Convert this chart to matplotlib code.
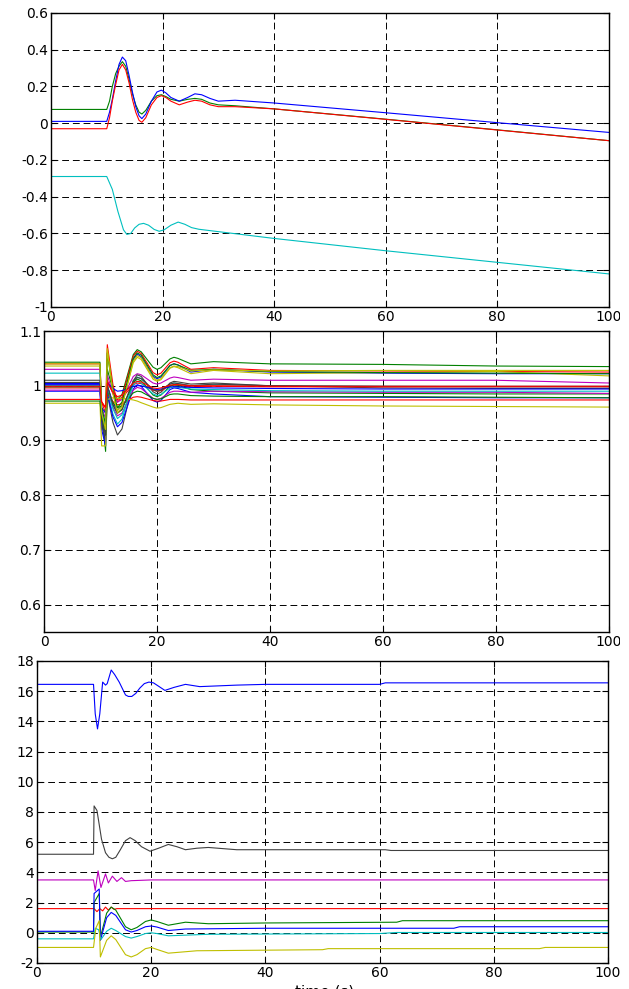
import matplotlib
matplotlib.use("Agg")
import matplotlib.pyplot as plt
from matplotlib.patches import Rectangle

plt.rcParams['font.family'] = ['DejaVu Sans']
plt.rcParams['font.size'] = 10

# matlab default colours
B = (0, 0, 1)
G = (0, 0.5, 0)
R = (1, 0, 0)
C = (0, 0.75, 0.75)
M = (0.75, 0, 0.75)
Y = (0.75, 0.75, 0)
K = (0.25, 0.25, 0.25)

# ---- panel 1 ----
t_top = [0, 10, 10.5, 11, 11.6, 12.2, 12.8, 13.4, 14, 14.6, 15.2, 15.8, 16.3, 17, 18, 19, 19.8, 20.6, 21.5, 23, 24.5, 25.8, 27, 28.5, 30, 33, 40, 60, 80, 100]
top_blue = [0.01, 0.01, 0.06, 0.13, 0.23, 0.32, 0.36, 0.34, 0.26, 0.17, 0.09, 0.04, 0.025, 0.05, 0.12, 0.17, 0.18, 0.165, 0.14, 0.12, 0.14, 0.16, 0.155, 0.135, 0.12, 0.125, 0.11, 0.057, 0.003, -0.05]
top_green = [0.075, 0.075, 0.12, 0.20, 0.27, 0.31, 0.335, 0.31, 0.24, 0.16, 0.10, 0.06, 0.05, 0.07, 0.12, 0.15, 0.155, 0.145, 0.13, 0.12, 0.13, 0.135, 0.13, 0.11, 0.10, 0.095, 0.078, 0.022, -0.036, -0.095]
top_red = [-0.03, -0.03, 0.03, 0.12, 0.21, 0.29, 0.32, 0.29, 0.22, 0.13, 0.06, 0.015, 0.005, 0.03, 0.10, 0.14, 0.15, 0.14, 0.12, 0.10, 0.115, 0.125, 0.12, 0.10, 0.09, 0.09, 0.078, 0.021, -0.037, -0.095]
t_cyan = [0, 10, 11, 12, 13, 13.6, 14.3, 15, 15.8, 16.6, 17.5, 18.5, 19.4, 20.3, 21.5, 22.8, 24, 25.2, 26.5, 30, 40, 60, 80, 100]
top_cyan = [-0.29, -0.29, -0.36, -0.48, -0.58, -0.605, -0.6, -0.57, -0.55, -0.545, -0.555, -0.578, -0.588, -0.58, -0.555, -0.538, -0.55, -0.568, -0.577, -0.59, -0.627, -0.694, -0.757, -0.82]
top_yticks = [-1, -0.8, -0.6, -0.4, -0.2, 0, 0.2, 0.4, 0.6]
top_ylabels = ['-1', '-0.8', '-0.6', '-0.4', '-0.2', '0', '0.2', '0.4', '0.6']

# ---- panel 2 (bus voltages) ----
t_mid = [0, 9.9, 10.2, 10.9, 11.2, 12.2, 13, 13.8, 15.8, 16.5, 17.2, 19.3, 20, 20.7, 22.3, 23, 23.7, 26, 30, 40, 60, 80, 100]
mid_vals = [
    [1.000, 1.000, 0.95, 0.88, 1.030, 0.992, 0.975, 0.984, 1.057, 1.066, 1.062, 1.034, 1.030, 1.033, 1.049, 1.052, 1.050, 1.040, 1.044, 1.040, 1.039, 1.036, 1.035],
    [1.040, 1.040, 0.97, 0.96, 1.075, 1.002, 0.970, 0.979, 1.054, 1.063, 1.059, 1.024, 1.020, 1.023, 1.042, 1.045, 1.043, 1.030, 1.033, 1.028, 1.027, 1.026, 1.025],
    [1.004, 1.004, 0.93, 0.90, 1.000, 0.969, 0.955, 0.965, 1.048, 1.058, 1.053, 1.017, 1.013, 1.016, 1.037, 1.040, 1.038, 1.025, 1.030, 1.025, 1.023, 1.022, 1.022],
    [1.036, 1.036, 0.95, 0.93, 1.068, 0.989, 0.955, 0.965, 1.042, 1.052, 1.048, 1.012, 1.008, 1.011, 1.032, 1.035, 1.033, 1.022, 1.028, 1.022, 1.024, 1.026, 1.018],
    [1.030, 1.030, 0.96, 0.94, 1.020, 0.985, 0.970, 0.975, 1.017, 1.022, 1.020, 1.005, 1.003, 1.005, 1.014, 1.016, 1.015, 1.010, 1.012, 1.010, 1.010, 1.010, 1.005],
    [1.023, 1.023, 0.94, 0.92, 0.990, 0.948, 0.930, 0.939, 1.007, 1.016, 1.013, 0.993, 0.990, 0.992, 1.003, 1.005, 1.004, 1.000, 1.002, 1.000, 0.999, 0.998, 0.998],
    [1.006, 1.006, 0.93, 0.90, 0.985, 0.933, 0.910, 0.921, 1.009, 1.020, 1.017, 0.989, 0.985, 0.988, 1.005, 1.008, 1.007, 1.003, 1.005, 1.000, 0.996, 0.995, 0.995],
    [0.996, 0.996, 0.97, 0.96, 1.010, 0.986, 0.975, 0.978, 1.002, 1.005, 1.004, 0.992, 0.990, 0.991, 1.000, 1.001, 1.001, 0.998, 0.999, 0.998, 0.998, 0.998, 0.998],
    [0.990, 0.990, 0.92, 0.89, 0.985, 0.943, 0.925, 0.933, 0.994, 1.002, 0.999, 0.973, 0.970, 0.973, 0.993, 0.996, 0.995, 0.988, 0.985, 0.980, 0.979, 0.978, 0.978],
    [0.998, 0.998, 0.95, 0.92, 1.000, 0.965, 0.950, 0.956, 1.006, 1.012, 1.009, 0.983, 0.980, 0.983, 0.999, 1.002, 1.001, 0.993, 0.990, 0.987, 0.986, 0.985, 0.985],
    [0.992, 0.992, 0.95, 0.93, 0.995, 0.960, 0.945, 0.950, 0.992, 0.997, 0.995, 0.977, 0.975, 0.977, 0.988, 0.990, 0.990, 0.988, 0.990, 0.989, 0.988, 0.988, 0.986],
    [0.975, 0.975, 0.97, 0.95, 0.985, 0.971, 0.965, 0.967, 0.979, 0.980, 0.979, 0.973, 0.972, 0.972, 0.975, 0.975, 0.975, 0.974, 0.974, 0.974, 0.974, 0.974, 0.974],
    [0.968, 0.968, 0.89, 0.89, 0.975, 0.978, 0.977, 0.977, 0.974, 0.972, 0.969, 0.961, 0.959, 0.960, 0.966, 0.967, 0.968, 0.966, 0.967, 0.965, 0.963, 0.962, 0.961],
    [0.972, 0.972, 0.94, 0.91, 0.990, 0.969, 0.960, 0.963, 0.987, 0.990, 0.989, 0.977, 0.975, 0.976, 0.984, 0.985, 0.985, 0.982, 0.981, 0.980, 0.980, 0.979, 0.978],
    [1.000, 1.000, 0.95, 0.93, 1.000, 0.958, 0.940, 0.947, 1.001, 1.008, 1.005, 0.985, 0.982, 0.984, 0.996, 0.998, 0.997, 0.994, 0.993, 0.991, 0.990, 0.990, 0.990],
    [1.002, 1.002, 0.96, 0.95, 1.005, 0.995, 0.990, 0.991, 0.999, 1.000, 1.000, 0.994, 0.993, 0.994, 0.998, 0.998, 0.998, 0.997, 0.996, 0.995, 0.994, 0.994, 0.994],
    [1.010, 1.010, 0.94, 0.91, 1.000, 0.965, 0.950, 0.957, 1.009, 1.015, 1.013, 0.993, 0.990, 0.992, 1.003, 1.005, 1.004, 1.000, 1.003, 1.000, 0.999, 0.999, 0.999],
    [1.043, 1.043, 0.96, 0.93, 1.060, 0.990, 0.960, 0.970, 1.050, 1.060, 1.056, 1.020, 1.015, 1.018, 1.037, 1.040, 1.038, 1.028, 1.030, 1.026, 1.024, 1.023, 1.022],
    [1.040, 1.040, 0.95, 0.92, 1.065, 0.985, 0.950, 0.961, 1.045, 1.055, 1.051, 1.015, 1.010, 1.013, 1.033, 1.036, 1.035, 1.027, 1.029, 1.027, 1.028, 1.028, 1.028],
    [0.999, 0.999, 0.97, 0.96, 1.005, 0.988, 0.980, 0.983, 1.005, 1.008, 1.007, 0.996, 0.995, 0.996, 1.001, 1.002, 1.002, 1.000, 1.000, 0.999, 0.999, 0.999, 0.999],
]
mid_colors = [G, R, B, Y, M, C, K, R, B, G, M, R, Y, G, C, B, K, G, Y, R]
mid_yticks = [0.6, 0.7, 0.8, 0.9, 1.0, 1.1]
mid_ylabels = ['0.6', '0.7', '0.8', '0.9', '1', '1.1']

# ---- panel 3 ----
t_b_blue = [0, 9.9, 10.2, 10.6, 11.0, 11.5, 12.0, 12.3, 13.0, 13.6, 14.4, 15.5, 16.0, 16.6, 17.3, 18, 18.8, 19.6, 20.4, 21, 22.4, 24, 26, 28.5, 35, 40, 60, 61, 100]
b_blue = [16.45, 16.45, 14.5, 13.5, 14.5, 16.6, 16.4, 16.5, 17.4, 17.1, 16.6, 15.75, 15.65, 15.65, 15.85, 16.2, 16.5, 16.6, 16.55, 16.4, 16.05, 16.25, 16.45, 16.3, 16.4, 16.45, 16.45, 16.55, 16.55]
t_b_gray = [0, 9.9, 10.0, 10.5, 10.8, 11.3, 12, 12.6, 13.2, 13.8, 14.6, 15.5, 16.3, 17.2, 18.3, 19.8, 21.3, 23, 24.5, 26, 28, 30, 35, 61, 62, 100]
b_gray = [5.2, 5.2, 8.4, 8.1, 7.4, 6.2, 5.3, 5.0, 4.9, 5.0, 5.5, 6.1, 6.3, 6.1, 5.7, 5.4, 5.6, 5.85, 5.7, 5.5, 5.6, 5.65, 5.5, 5.5, 5.45, 5.45]
t_b_mag = [0, 9.9, 10.2, 10.7, 11.2, 12.0, 12.5, 13.2, 14.0, 14.8, 15.5, 16.5, 20, 100]
b_mag = [3.5, 3.5, 2.8, 4.1, 3.0, 3.9, 3.3, 3.75, 3.4, 3.65, 3.4, 3.45, 3.5, 3.5]
t_b_red = [0, 10, 10.5, 11, 11.5, 12, 12.5, 13, 13.5, 14, 100]
b_red = [1.6, 1.6, 1.4, 1.6, 1.45, 1.7, 1.5, 1.7, 1.55, 1.6, 1.6]
t_b_green = [0, 9.9, 10.0, 10.9, 11.1, 12.2, 13.0, 13.8, 15.5, 16.5, 17.5, 19, 20, 21, 23, 26, 30, 40, 63, 64, 100]
b_green = [0.05, 0.05, 2.0, 2.6, -0.3, 1.3, 1.7, 1.5, 0.4, 0.2, 0.35, 0.75, 0.85, 0.75, 0.5, 0.7, 0.6, 0.65, 0.7, 0.8, 0.8]
t_b_blue2 = [0, 9.9, 10.0, 10.9, 11.1, 12.2, 13.0, 13.8, 15.5, 16.5, 17.5, 19, 20, 21, 23, 26, 40, 73, 74, 100]
b_blue2 = [0.1, 0.1, 2.6, 2.9, -0.5, 1.0, 1.35, 1.15, 0.2, 0.05, 0.15, 0.4, 0.45, 0.38, 0.15, 0.25, 0.3, 0.3, 0.4, 0.4]
t_b_cyan = [0, 9.9, 10.2, 10.8, 11.2, 12.2, 13.0, 13.8, 15.5, 16.5, 17.5, 19, 20, 21, 23, 30, 60, 63, 100]
b_cyan = [-0.4, -0.4, 0.3, 0.2, -0.45, 0.1, 0.3, 0.15, -0.25, -0.35, -0.25, -0.05, 0.0, -0.05, -0.2, -0.1, -0.05, 0.02, 0.02]
t_b_yel = [0, 9.9, 10.3, 10.9, 11.1, 12.2, 13.0, 13.8, 15.5, 16.5, 17.5, 19, 20, 21, 23, 28, 50, 51, 88, 89, 100]
b_yel = [-0.97, -0.97, 0.3, 0.8, -1.6, -0.5, -0.2, -0.45, -1.45, -1.6, -1.45, -1.05, -0.97, -1.1, -1.35, -1.19, -1.12, -1.05, -1.05, -0.97, -0.97]
bot_yticks = list(range(-2, 19, 2))

xticks = [0, 20, 40, 60, 80, 100]

fig = plt.figure(figsize=(6.29, 9.89), dpi=100)
ax1 = fig.add_axes([0.081, 0.6896, 0.887, 0.2973])
ax2 = fig.add_axes([0.070, 0.3610, 0.898, 0.3043])
ax3 = fig.add_axes([0.0588, 0.0263, 0.9078, 0.3054])

lw = 0.8
ax1.plot(t_top, top_green, color=G, lw=lw)
ax1.plot(t_top, top_blue, color=B, lw=lw)
ax1.plot(t_top, top_red, color=R, lw=lw)
ax1.plot(t_cyan, top_cyan, color=C, lw=lw)
ax1.set_ylim(-1, 0.6)
ax1.set_yticks(top_yticks)
ax1.set_yticklabels(top_ylabels)

for vals, col in zip(mid_vals, mid_colors):
    ax2.plot(t_mid, vals, color=col, lw=lw)
ax2.set_ylim(0.55, 1.1)
ax2.set_yticks(mid_yticks)
ax2.set_yticklabels(mid_ylabels)

ax3.plot(t_b_blue, b_blue, color=B, lw=lw)
ax3.plot(t_b_gray, b_gray, color=K, lw=lw)
ax3.plot(t_b_mag, b_mag, color=M, lw=lw)
ax3.plot(t_b_red, b_red, color=R, lw=lw)
ax3.plot(t_b_green, b_green, color=G, lw=lw)
ax3.plot(t_b_blue2, b_blue2, color=B, lw=lw)
ax3.plot(t_b_cyan, b_cyan, color=C, lw=lw)
ax3.plot(t_b_yel, b_yel, color=Y, lw=lw)
ax3.set_ylim(-2, 18)
ax3.set_yticks(bot_yticks)
ax3.set_yticklabels([str(v) for v in bot_yticks])

for ax in (ax1, ax2, ax3):
    ax.set_xlim(0, 100)
    ax.set_xticks(xticks)
    ax.set_xticklabels([str(v) for v in xticks])
    ax.grid(True, color='black', linestyle=(0, (7, 4)), linewidth=0.7)
    ax.tick_params(direction='in', top=True, right=True, length=4, width=0.8, pad=2)
    for s in ax.spines.values():
        s.set_linewidth(1.0)

# x label sits mostly below the bottom edge, as in the original
fig.text(0.516, 0.005, 'time (s)', ha='center', va='top', fontsize=11)

# the original picture is cut off on its right edge
fig.patches.append(Rectangle((620 / 629, 0), 1, 1, transform=fig.transFigure,
                             facecolor='white', edgecolor='none', zorder=10))

plt.savefig('out.png', dpi=100)
